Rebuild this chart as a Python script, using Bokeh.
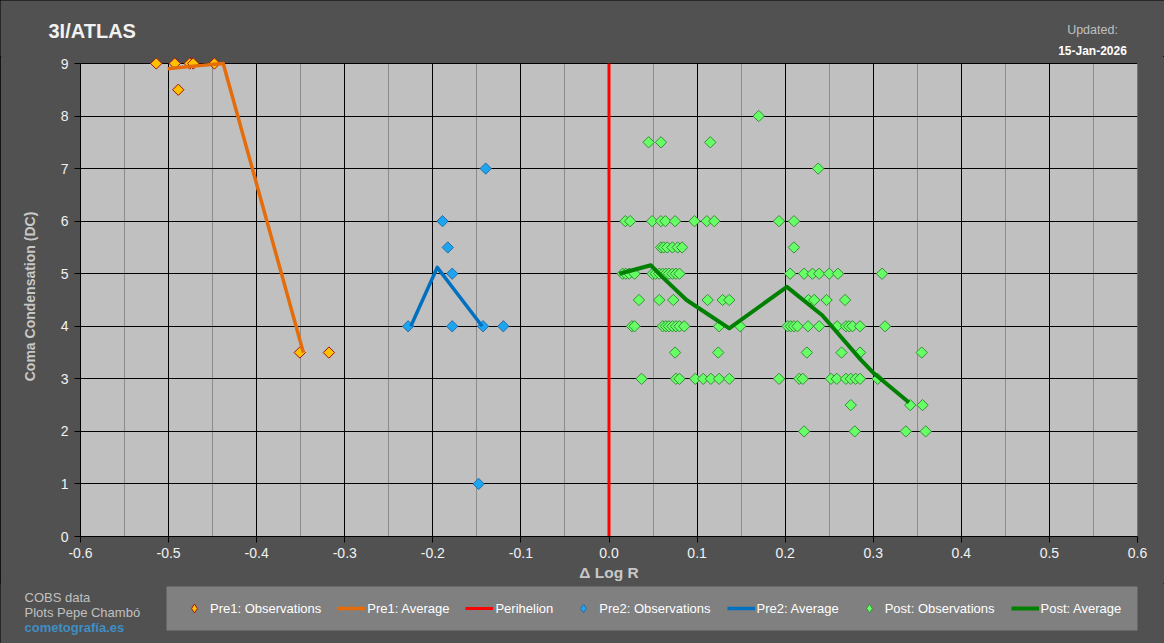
import math
from bokeh.plotting import figure
from bokeh.layouts import column
from bokeh.models import (Range1d, FixedTicker, Legend, LegendItem, NumeralTickFormatter)
from bokeh.core.properties import value
from bokeh.embed import file_html
from bokeh.resources import INLINE

# ---------------- data ----------------
pre1_obs_x = [-0.514, -0.493, -0.476, -0.472, -0.448, -0.489, -0.351, -0.318]
pre1_obs_dc = [9, 9, 9, 9, 9, 8.5, 3.5, 3.5]
pre1_avg_x = [-0.501, -0.472, -0.438, -0.347]
pre1_avg_dc = [8.90, 8.95, 9.0, 3.5]

peri_x = [0.0, 0.0]
peri_dc = [0, 9]

pre2_obs_x = [-0.140, -0.189, -0.183, -0.178, -0.228, -0.178, -0.143, -0.120, -0.148]
pre2_obs_dc = [7, 6, 5.5, 5, 4, 4, 4, 4, 1]
pre2_avg_x = [-0.225, -0.195, -0.144]
pre2_avg_dc = [4.0, 5.12, 4.0]

post_obs_x = [
    0.170,
    0.045, 0.059, 0.115,
    0.2375,
    0.0185, 0.024, 0.049, 0.059, 0.064, 0.075, 0.097, 0.111, 0.1195, 0.193, 0.210,
    0.059, 0.062, 0.066, 0.072, 0.078, 0.083, 0.210,
    0.0155, 0.019, 0.023, 0.029, 0.0495, 0.053, 0.057, 0.061, 0.0646, 0.068, 0.072,
    0.076, 0.080, 0.2056, 0.2215, 0.231, 0.2386, 0.250, 0.260, 0.310,
    0.034, 0.057, 0.073, 0.112, 0.129, 0.1365, 0.2265, 0.233, 0.247, 0.268,
    0.026, 0.029, 0.061, 0.0646, 0.068, 0.072, 0.076, 0.080, 0.0854, 0.125, 0.149,
    0.2027, 0.2064, 0.210, 0.214, 0.226, 0.2386, 0.259, 0.269, 0.2725, 0.2764, 0.285, 0.3134,
    0.075, 0.124, 0.2246, 0.264, 0.285, 0.355,
    0.037, 0.076, 0.080, 0.098, 0.107, 0.1157, 0.125, 0.1365, 0.193, 0.216, 0.220,
    0.252, 0.2586, 0.269, 0.2745, 0.280, 0.285, 0.305,
    0.2745, 0.342, 0.356,
    0.2215, 0.279, 0.337, 0.3595,
]
post_obs_dc = (
    [8] +
    [7.5] * 3 +
    [7] +
    [6] * 11 +
    [5.5] * 7 +
    [5] * 20 +
    [4.5] * 10 +
    [4] * 23 +
    [3.5] * 6 +
    [3] * 18 +
    [2.5] * 3 +
    [2] * 4
)
post_avg_x = [0.0117, 0.0476, 0.061, 0.088, 0.1365, 0.202, 0.242, 0.286, 0.301, 0.3406]
post_avg_dc = [5.0, 5.16, 4.93, 4.5, 3.96, 4.75, 4.21, 3.36, 3.1, 2.55]

x_ticks = [-0.6, -0.5, -0.4, -0.3, -0.2, -0.1, 0.0, 0.1, 0.2, 0.3, 0.4, 0.5, 0.6]
x_minor = [-0.55, -0.45, -0.35, -0.25, -0.15, -0.05, 0.05, 0.15, 0.25, 0.35, 0.45, 0.55]
y_ticks = [0, 1, 2, 3, 4, 5, 6, 7, 8, 9]

legend_labels = ["Pre1: Observations", "Pre1: Average", "Perihelion",
                 "Pre2: Observations", "Pre2: Average",
                 "Post: Observations", "Post: Average"]
title_text = "3I/ATLAS"
updated_label = "Updated:"
updated_date = "15-Jan-2026"
credit_lines = ["COBS data", "Plots Pepe Chambó"]
credit_site = "cometografía.es"

FONT = "Liberation Sans"
BG = "#515151"
W = 1164


def no_align(fig):
    if "frame_align" in fig.properties():
        fig.frame_align = False


def pixel_fig(h):
    f = figure(width=W, height=h, x_range=Range1d(0, W), y_range=Range1d(h, 0),
               output_backend="svg", toolbar_location=None, title=None,
               x_axis_type=None, y_axis_type=None, min_border=0,
               background_fill_color=BG, border_fill_color=BG, outline_line_color=None)
    no_align(f)
    f.xgrid.visible = False
    f.ygrid.visible = False
    return f


def txt(f, x, y, s, size, color, style="normal", align="left"):
    f.text(x=x, y=y, text=s, text_font=value(FONT), text_font_size=size,
           text_color=color, text_font_style=style, text_align=align,
           text_baseline="middle")


# ---------------- header ----------------
HH = 56
header = pixel_fig(HH)
txt(header, [48], [30], [title_text], "20px", "#F2F2F2", "bold")
txt(header, [1092], [29], [updated_label], "12.5px", "#C0C0C0", "normal", "center")
txt(header, [1092], [50], [updated_date], "12px", "#FFFFFF", "bold", "center")

# ---------------- main plot ----------------
p = figure(width=W, height=527, x_range=Range1d(-0.6, 0.6), y_range=Range1d(0, 9.133),
           output_backend="svg", toolbar_location=None, title=None,
           min_border_left=80, min_border_right=27, min_border_top=0, min_border_bottom=46,
           background_fill_color=BG, border_fill_color=BG, outline_line_color=None)
no_align(p)

# plot area background (light grey) bounded by the axis extents
p.quad(left=[x_ticks[0]], right=[x_ticks[-1]], bottom=[y_ticks[0]], top=[y_ticks[-1]],
       fill_color="#C0C0C0", line_color="#808080", line_width=1, level="image")

p.xaxis.ticker = FixedTicker(ticks=x_ticks, minor_ticks=x_minor)
p.xaxis.formatter = NumeralTickFormatter(format="0.0")
p.yaxis.ticker = FixedTicker(ticks=y_ticks)
p.yaxis.bounds = (y_ticks[0], y_ticks[-1])

for ax in (p.xaxis[0], p.yaxis[0]):
    ax.axis_line_color = "#000000"
    ax.major_tick_line_color = "#000000"
    ax.major_tick_out = 6
    ax.major_tick_in = 0
    ax.minor_tick_line_color = None
    ax.major_label_text_color = "#F2F2F2"
    ax.major_label_text_font = FONT
    ax.major_label_text_font_size = "14px"
    ax.axis_label_text_font = FONT
    ax.axis_label_text_font_style = "bold"
    ax.axis_label_text_color = "#C8C8C8"

p.xaxis.axis_label = "Δ Log R"
p.xaxis.axis_label_text_font_size = "15.5px"
p.xaxis.major_label_standoff = 5
p.xaxis.axis_label_standoff = 3
p.yaxis.axis_label = "Coma Condensation (DC)"
p.yaxis.axis_label_text_font_size = "14px"
p.yaxis.major_label_standoff = 6
p.yaxis.axis_label_standoff = 20

xg = p.xgrid[0]
xg.grid_line_color = "#000000"
xg.minor_grid_line_color = "#8C8C8C"
if "cross_bounds" in xg.properties():
    xg.cross_bounds = (y_ticks[0], y_ticks[-1])
p.ygrid.grid_line_color = "#000000"

ang = math.pi / 4
MS = 8
col_pre1 = dict(fill_color="#FFC000", line_color="#A01010", line_width=1)
col_pre2 = dict(fill_color="#1EA5F0", line_color="#2A6AA8", line_width=1)
col_post = dict(fill_color="#66FF66", line_color="#3A8A3A", line_width=1)
sty_pre1_avg = dict(line_color="#E46C0A", line_width=3.5, line_join="round")
sty_peri = dict(line_color="#FF0000", line_width=3)
sty_pre2_avg = dict(line_color="#0070C0", line_width=3.5, line_join="round")
sty_post_avg = dict(line_color="#008000", line_width=4, line_join="round")

mk = dict(marker="square", size=MS, angle=ang)
p.scatter(pre1_obs_x, pre1_obs_dc, **mk, **col_pre1)
p.line(pre1_avg_x, pre1_avg_dc, **sty_pre1_avg)
p.line(peri_x, peri_dc, **sty_peri)
p.scatter(pre2_obs_x, pre2_obs_dc, **mk, **col_pre2)
p.line(pre2_avg_x, pre2_avg_dc, **sty_pre2_avg)
p.scatter(post_obs_x, post_obs_dc, **mk, **col_post)
p.line(post_avg_x, post_avg_dc, **sty_post_avg)

# ---------------- footer (credits + legend) ----------------
FH = 60
footer = pixel_fig(FH)
txt(footer, [24, 24], [14, 29], credit_lines, "13px", "#C0C0C0")
txt(footer, [24], [44], [credit_site], "13px", "#3D8FC4", "bold")

# legend panel (layout only)
footer.quad(left=[166], right=[1137], top=[3], bottom=[47],
            fill_color="#808080", line_color=None)

# legend proxies: same series, mapped through a range that keeps them off-canvas
footer.extra_x_ranges = {"proxy": Range1d(50, 51)}
kw = dict(x_range_name="proxy")
lmk = dict(marker="diamond", size=10)
l1 = footer.scatter(pre1_obs_x, pre1_obs_dc, **kw, **lmk, **col_pre1)
l2 = footer.line(pre1_avg_x, pre1_avg_dc, **kw, **sty_pre1_avg)
l3 = footer.line(peri_x, peri_dc, **kw, **sty_peri)
l4 = footer.scatter(pre2_obs_x, pre2_obs_dc, **kw, **lmk, **col_pre2)
l5 = footer.line(pre2_avg_x, pre2_avg_dc, **kw, **sty_pre2_avg)
l6 = footer.scatter(post_obs_x, post_obs_dc, **kw, **lmk, **col_post)
l7 = footer.line(post_avg_x, post_avg_dc, **kw, **sty_post_avg)

legend = Legend(items=[LegendItem(label=lbl, renderers=[r]) for lbl, r in
                       zip(legend_labels, [l1, l2, l3, l4, l5, l6, l7])],
                orientation="horizontal", location=(180, 24))
legend.background_fill_alpha = 0.0
legend.border_line_color = None
legend.label_text_color = "#FFFFFF"
legend.label_text_font = FONT
legend.label_text_font_size = "13px"
legend.glyph_width = 28
legend.glyph_height = 22
legend.label_height = 22
legend.label_standoff = 2
legend.spacing = 16
legend.padding = 0
legend.margin = 0
footer.add_layout(legend, "center")

layout = column(header, p, footer, spacing=0,
                styles={"background-color": BG,
                        "outline": "1px solid #000000", "outline-offset": "-1px"})
open("out.html", "w").write(file_html(layout, INLINE))
